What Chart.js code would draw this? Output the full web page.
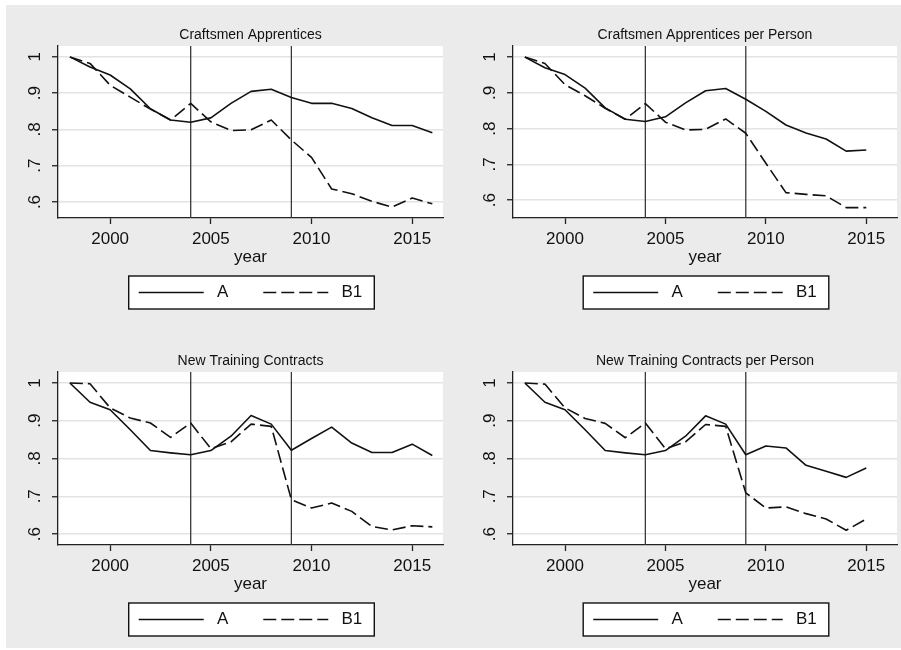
<!DOCTYPE html>
<html>
<head>
<meta charset="utf-8">
<script src="https://cdn.jsdelivr.net/npm/chart.js@4.4.1/dist/chart.umd.min.js"></script>
<style>
  body { margin: 0; background: #fff; }
  #page { position: absolute; left: 6px; top: 5px; width: 895px; height: 643px; background: #ebebeb; }
  canvas { position: absolute; }
</style>
</head>
<body>
<div id="page"></div>
<canvas id="c1"></canvas>
<canvas id="c2"></canvas>
<canvas id="c3"></canvas>
<canvas id="c4"></canvas>
<script>
// data
const years = [1998, 1999, 2000, 2001, 2002, 2003, 2004, 2005, 2006, 2007, 2008, 2009, 2010, 2011, 2012, 2013, 2014, 2015, 2016];
const yearsPerPerson = [1998, 1999, 2000, 2001, 2002, 2003, 2004, 2005, 2006, 2007, 2008, 2009, 2010, 2011, 2012, 2013, 2014, 2015];
const xTicks = [2000, 2005, 2010, 2015];
const yTicks = [0.6, 0.7, 0.8, 0.9, 1];
const yTickLabels = ['.6', '.7', '.8', '.9', '1'];
const refYears = [2004, 2009];
const seriesNames = ['A', 'B1'];
const titles = ['Craftsmen Apprentices', 'Craftsmen Apprentices per Person', 'New Training Contracts', 'New Training Contracts per Person'];

const craftA = [1.0, 0.972, 0.950, 0.912, 0.857, 0.826, 0.820, 0.832, 0.872, 0.905, 0.911, 0.888, 0.872, 0.872, 0.858, 0.832, 0.811, 0.811, 0.791];
const craftB1 = [1.0, 0.982, 0.922, 0.889, 0.856, 0.826, 0.872, 0.821, 0.797, 0.799, 0.826, 0.771, 0.723, 0.636, 0.623, 0.602, 0.586, 0.611, 0.595];
const craftPpA = [1.0, 0.970, 0.951, 0.913, 0.858, 0.826, 0.820, 0.833, 0.872, 0.906, 0.912, 0.882, 0.848, 0.810, 0.788, 0.771, 0.737, 0.740];
const craftPpB1 = [1.0, 0.982, 0.923, 0.892, 0.857, 0.826, 0.870, 0.818, 0.796, 0.798, 0.827, 0.787, 0.703, 0.621, 0.616, 0.612, 0.579, 0.579];
const ntcA = [1.0, 0.949, 0.929, 0.876, 0.821, 0.815, 0.810, 0.821, 0.859, 0.914, 0.891, 0.822, 0.853, 0.883, 0.841, 0.816, 0.816, 0.838, 0.808];
const ntcB1 = [1.0, 0.998, 0.934, 0.907, 0.894, 0.856, 0.894, 0.826, 0.844, 0.891, 0.885, 0.691, 0.669, 0.682, 0.660, 0.620, 0.611, 0.622, 0.619];
const ntcPpA = [1.0, 0.949, 0.929, 0.876, 0.821, 0.815, 0.810, 0.821, 0.859, 0.913, 0.891, 0.810, 0.833, 0.828, 0.782, 0.766, 0.750, 0.775];
const ntcPpB1 = [1.0, 0.997, 0.934, 0.906, 0.893, 0.855, 0.894, 0.826, 0.844, 0.890, 0.885, 0.709, 0.669, 0.672, 0.654, 0.640, 0.610, 0.640];

Chart.defaults.font.family = '"Liberation Sans", Arial, sans-serif';
Chart.defaults.color = '#111';

// white plot region
const plotBg = {
    id: 'plotBg',
    beforeDraw(chart) {
        const { ctx, chartArea: a } = chart;
        ctx.save();
        ctx.fillStyle = '#fff';
        ctx.fillRect(a.left, a.top, a.right - a.left, a.bottom - a.top);
        ctx.restore();
    }
};

// vertical lines at 2004 and 2009
const refLines = {
    id: 'refLines',
    beforeDatasetsDraw(chart) {
        const { ctx, chartArea: a, scales } = chart;
        ctx.save();
        ctx.strokeStyle = '#3a3a3a';
        ctx.lineWidth = 1.3;
        refYears.forEach(yr => {
            const x = scales.x.getPixelForValue(yr);
            ctx.beginPath();
            ctx.moveTo(x, a.top);
            ctx.lineTo(x, a.bottom);
            ctx.stroke();
        });
        ctx.restore();
    }
};

// box around the legend like Stata does
const legendFrame = {
    id: 'legendFrame',
    beforeDraw(chart) {
        const hb = chart.legend.legendHitBoxes;
        if (!hb || !hb.length) return;
        const first = hb[0], last = hb[hb.length - 1];
        const x0 = first.left - 10, x1 = last.left + last.width + 12;
        const yc = first.top + first.height / 2;
        const ctx = chart.ctx;
        ctx.save();
        ctx.fillStyle = '#fff';
        ctx.strokeStyle = '#111';
        ctx.lineWidth = 1.4;
        ctx.fillRect(x0, yc - 16.5, x1 - x0, 33);
        ctx.strokeRect(x0, yc - 16.5, x1 - x0, 33);
        ctx.restore();
    }
};

// legend entries: line samples keep the dataset dash pattern
function legendLabels(chart) {
    return Chart.defaults.plugins.legend.labels.generateLabels(chart).map(item => {
        const ds = chart.data.datasets[item.datasetIndex];
        return Object.assign(item, {
            text: ' ' + item.text,
            pointStyle: 'line',
            lineDash: ds.borderDash || [],
            lineWidth: ds.borderWidth,
            strokeStyle: ds.borderColor
        });
    });
}

const panels = [
    { id: 'c1', title: titles[0], x: years, a: craftA, b: craftB1, yMin: 0.556, yMax: 1.03,
      box: { left: 6, top: 5, width: 444, height: 315 }, area: { left: 58, top: 46, right: 443, bottom: 218 } },
    { id: 'c2', title: titles[1], x: yearsPerPerson, a: craftPpA, b: craftPpB1, yMin: 0.55, yMax: 1.031,
      box: { left: 461, top: 5, width: 440, height: 315 }, area: { left: 513, top: 46, right: 897, bottom: 218 } },
    { id: 'c3', title: titles[2], x: years, a: ntcA, b: ntcB1, yMin: 0.571, yMax: 1.029,
      box: { left: 6, top: 325, width: 444, height: 323 }, area: { left: 58, top: 372, right: 443, bottom: 545 } },
    { id: 'c4', title: titles[3], x: yearsPerPerson, a: ntcPpA, b: ntcPpB1, yMin: 0.571, yMax: 1.029,
      box: { left: 461, top: 325, width: 440, height: 323 }, area: { left: 513, top: 372, right: 897, bottom: 545 } }
];

function makePanel(p) {
    const cv = document.getElementById(p.id);
    cv.width = p.box.width;
    cv.height = p.box.height;
    cv.style.left = p.box.left + 'px';
    cv.style.top = p.box.top + 'px';
    const titleMid = p.area.top - 11.3 - p.box.top;

    new Chart(cv, {
        type: 'line',
        data: {
            datasets: [{
                label: seriesNames[0],
                data: p.x.map((yr, i) => ({ x: yr, y: p.a[i] })),
                borderColor: '#111',
                borderWidth: 1.6
            }, {
                label: seriesNames[1],
                data: p.x.map((yr, i) => ({ x: yr, y: p.b[i] })),
                borderColor: '#111',
                borderWidth: 1.6,
                borderDash: [13, 5]
            }]
        },
        options: {
            responsive: false,
            animation: false,
            elements: { point: { radius: 0 }, line: { tension: 0, borderJoinStyle: 'round' } },
            layout: {
                padding: {
                    left: 0, top: 0,
                    right: p.box.left + p.box.width - p.area.right,
                    bottom: p.box.top + p.box.height - p.area.bottom - 93
                }
            },
            plugins: {
                title: {
                    display: true, text: p.title, fullSize: false, color: '#111',
                    font: { size: 14, weight: 'normal' },
                    padding: { top: titleMid - 8.4, bottom: 11.3 - 8.4 }
                },
                legend: {
                    position: 'bottom', fullSize: false,
                    labels: {
                        usePointStyle: true, pointStyleWidth: 65, padding: 35,
                        color: '#111', font: { size: 17 }, generateLabels: legendLabels
                    }
                },
                tooltip: { enabled: false }
            },
            scales: {
                x: {
                    type: 'linear', min: 1997.41, max: 2016.53,
                    afterBuildTicks: s => { s.ticks = xTicks.map(v => ({ value: v })); },
                    afterFit: s => { s.height = 31; },
                    grid: { drawOnChartArea: false, tickLength: 6, tickColor: '#222', tickWidth: 1.3 },
                    border: { color: '#222', width: 1.3 },
                    ticks: { padding: 5, maxRotation: 0, color: '#111', font: { size: 17 }, callback: v => String(v) },
                    title: { display: true, text: 'year', color: '#111', font: { size: 17 }, padding: { top: 0, bottom: -18.5 } }
                },
                y: {
                    min: p.yMin, max: p.yMax,
                    afterBuildTicks: s => { s.ticks = yTicks.map(v => ({ value: v })); },
                    afterFit: s => { s.width = p.area.left - p.box.left; },
                    grid: { color: '#e3e3e3', lineWidth: 1.5, tickLength: 6, tickColor: '#222', tickWidth: 1.3 },
                    border: { color: '#222', width: 1.3 },
                    ticks: {
                        minRotation: 90, maxRotation: 90, crossAlign: 'center', padding: 10,
                        color: '#111', font: { size: 17 },
                        callback: (v, i) => yTickLabels[i]
                    }
                }
            }
        },
        plugins: [plotBg, refLines, legendFrame]
    });
}

panels.forEach(makePanel);
</script>
</body>
</html>
